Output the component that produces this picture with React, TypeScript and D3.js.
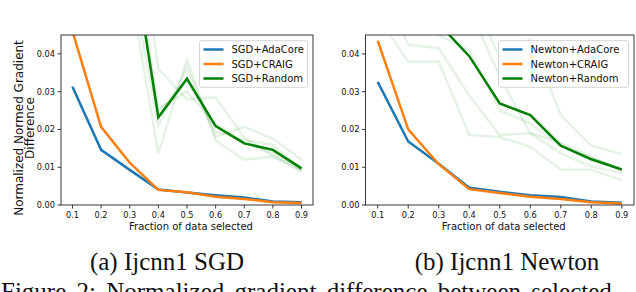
import React from "react";
import * as d3 from "d3";

// fraction of data selected
const fractions = [0.1, 0.2, 0.3, 0.4, 0.5, 0.6, 0.7, 0.8, 0.9];
const yTicks = [0, 0.01, 0.02, 0.03, 0.04];

// (a) SGD
const sgdAdaCore = [0.0313, 0.0146, 0.0093, 0.0041, 0.0033, 0.0026, 0.002, 0.0009, 0.0007];
const sgdCraig = [0.046, 0.0207, 0.0112, 0.004, 0.0034, 0.0022, 0.0016, 0.0007, 0.0005];
const sgdRandom = [0.14, 0.1, 0.0716, 0.0232, 0.0334, 0.0209, 0.0163, 0.0146, 0.0097];
const sgdRuns = [
  [0.12, 0.08, 0.058, 0.0135, 0.0385, 0.017, 0.012, 0.0128, 0.0088],
  [0.13, 0.09, 0.062, 0.021, 0.0365, 0.018, 0.0207, 0.0176, 0.0119],
  [0.14, 0.1, 0.07, 0.0245, 0.0335, 0.0195, 0.0172, 0.0159, 0.0093],
  [0.15, 0.11, 0.078, 0.0255, 0.03, 0.0215, 0.0165, 0.0137, 0.0092],
  [0.16, 0.12, 0.09, 0.036, 0.028, 0.0285, 0.0178, 0.013, 0.0093],
];

// (b) Newton
const newtonAdaCore = [0.0326, 0.0168, 0.0109, 0.0046, 0.0035, 0.0026, 0.0021, 0.0009, 0.0006];
const newtonCraig = [0.0435, 0.02, 0.0108, 0.0042, 0.0032, 0.0022, 0.0016, 0.0007, 0.0004];
const newtonRandom = [0.08, 0.06, 0.048, 0.0394, 0.0269, 0.0238, 0.0157, 0.0121, 0.0094];
const newtonRuns = [
  [0.05, 0.0379, 0.038, 0.0185, 0.018, 0.0154, 0.0093, 0.0093, 0.0066],
  [0.06, 0.0424, 0.0415, 0.029, 0.0185, 0.019, 0.0137, 0.0102, 0.0085],
  [0.08, 0.06, 0.045, 0.041, 0.025, 0.0216, 0.0157, 0.0126, 0.0091],
  [0.1, 0.07, 0.055, 0.052, 0.034, 0.019, 0.0165, 0.0127, 0.0093],
  [0.11, 0.09, 0.06, 0.057, 0.039, 0.044, 0.0238, 0.0157, 0.0135],
];

const BLUE = "#1f77b4";
const ORANGE = "#ff7f0e";
const GREEN = "#008000";
const SANS = "DejaVu Sans, sans-serif";
const SERIF = "Liberation Serif, Times New Roman, serif";

const TOP = 35;
const BOTTOM = 205;

type PanelProps = {
  id: string;
  left: number;
  right: number;
  ada: number[];
  craig: number[];
  random: number[];
  runs: number[][];
  labels: string[];
  legendWidth: number;
};

const Panel = ({ id, left, right, ada, craig, random, runs, labels, legendWidth }: PanelProps) => {
  const x = d3.scaleLinear().domain([0.06, 0.94]).range([left, right]);
  const y = d3.scaleLinear().domain([0, 0.045]).range([BOTTOM, TOP]);
  const line = d3
    .line<number>()
    .x((_, i) => x(fractions[i]))
    .y((d) => y(d));

  const lgRight = right - 5.5;
  const lgLeft = lgRight - legendWidth;
  const lgTop = 40.7;
  const rows = [49.5, 64, 78.5];
  const colors = [BLUE, ORANGE, GREEN];

  return (
    <g>
      <defs>
        <clipPath id={id}>
          <rect x={left} y={TOP} width={right - left} height={BOTTOM - TOP} />
        </clipPath>
      </defs>
      <g clipPath={`url(#${id})`}>
        {runs.map((r, i) => (
          <path key={i} d={line(r) || ""} fill="none" stroke={GREEN} strokeOpacity={0.1} strokeWidth={2.5} />
        ))}
        <path d={line(ada) || ""} fill="none" stroke={BLUE} strokeWidth={2.5} />
        <path d={line(craig) || ""} fill="none" stroke={ORANGE} strokeWidth={2.5} />
        <path d={line(random) || ""} fill="none" stroke={GREEN} strokeWidth={2.5} />
      </g>
      <rect x={left} y={TOP} width={right - left} height={BOTTOM - TOP} fill="none" stroke="#222" strokeWidth={0.9} />
      {fractions.map((f) => (
        <g key={f}>
          <line x1={x(f)} x2={x(f)} y1={BOTTOM} y2={BOTTOM + 3.5} stroke="#222" strokeWidth={0.9} />
          <text x={x(f)} y={BOTTOM + 13} fontSize={8.2} fontFamily={SANS} textAnchor="middle" fill="#111">
            {f.toFixed(1)}
          </text>
        </g>
      ))}
      {yTicks.map((t) => (
        <g key={t}>
          <line x1={left - 3.5} x2={left} y1={y(t)} y2={y(t)} stroke="#222" strokeWidth={0.9} />
          <text x={left - 6} y={y(t) + 3} fontSize={8.2} fontFamily={SANS} textAnchor="end" fill="#111">
            {t.toFixed(2)}
          </text>
        </g>
      ))}
      <text x={(left + right) / 2 + 4} y={230} fontSize={10} fontFamily={SANS} textAnchor="middle" fill="#111">
        Fraction of data selected
      </text>
      <rect
        x={lgLeft}
        y={lgTop}
        width={legendWidth}
        height={46.6}
        rx={2}
        fill="white"
        fillOpacity={0.8}
        stroke="#d0d0d0"
        strokeWidth={0.9}
      />
      {labels.map((l, i) => (
        <g key={l}>
          <line x1={lgLeft + 4} x2={lgLeft + 24} y1={rows[i]} y2={rows[i]} stroke={colors[i]} strokeWidth={2.5} />
          <text x={lgLeft + 32} y={rows[i] + 3.6} fontSize={10} fontFamily={SANS} fill="#111">
            {l}
          </text>
        </g>
      ))}
    </g>
  );
};

const App = () => {
  return (
    <svg
      width={636}
      height={292}
      style={{ position: "absolute", left: 0, top: 0, background: "white" }}
    >
      <rect width={636} height={292} fill="white" />
      <Panel
        id="clipA"
        left={61}
        right={313}
        ada={sgdAdaCore}
        craig={sgdCraig}
        random={sgdRandom}
        runs={sgdRuns}
        labels={["SGD+AdaCore", "SGD+CRAIG", "SGD+Random"]}
        legendWidth={108}
      />
      <Panel
        id="clipB"
        left={365.5}
        right={634}
        ada={newtonAdaCore}
        craig={newtonCraig}
        random={newtonRandom}
        runs={newtonRuns}
        labels={["Newton+AdaCore", "Newton+CRAIG", "Newton+Random"]}
        legendWidth={130}
      />
      <g transform="translate(22.5,128) rotate(-90)">
        <text fontSize={12} fontFamily={SANS} textAnchor="middle" fill="#111">
          Normalized Normed Gradient
        </text>
        <text y={11} fontSize={12} fontFamily={SANS} textAnchor="middle" fill="#111">
          Difference
        </text>
      </g>
      <text x={167} y={270} fontSize={25} fontFamily={SERIF} textAnchor="middle" fill="#111">
        (a) Ijcnn1 SGD
      </text>
      <text x={507} y={270} fontSize={25} fontFamily={SERIF} textAnchor="middle" fill="#111">
        (b) Ijcnn1 Newton
      </text>
      <text x={1} y={300} fontSize={25} fontFamily={SERIF} wordSpacing={4} fill="#111">
        Figure 2: Normalized gradient difference between selected
      </text>
    </svg>
  );
};

export default App;
